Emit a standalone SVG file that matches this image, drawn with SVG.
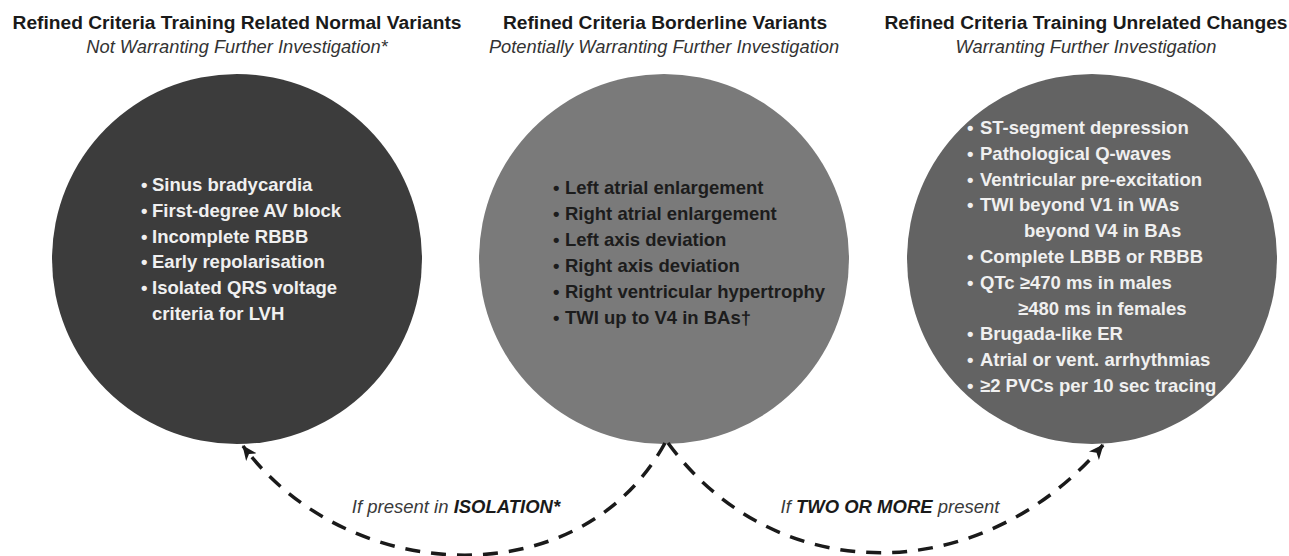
<svg xmlns="http://www.w3.org/2000/svg" width="1289" height="556" viewBox="0 0 1289 556">
<style>
.title{font-family:"Liberation Sans",Arial,sans-serif;font-weight:bold;font-size:19.2px;fill:#1a1a1a;text-anchor:middle}
.sub{font-family:"Liberation Sans",Arial,sans-serif;font-style:italic;font-size:18.3px;fill:#333;text-anchor:middle}
.item{font-family:"Liberation Sans",Arial,sans-serif;font-weight:bold;font-size:18.5px}
.light{fill:#f0f0f0}
.dark{fill:#1c1c1c}
.conn{fill:none;stroke:#1a1a1a;stroke-width:3.5;stroke-dasharray:15 11;marker-end:url(#arrow)}
.lbl{font-family:"Liberation Sans",Arial,sans-serif;font-style:italic;font-size:18.5px;fill:#3a3a3a;text-anchor:middle}
.lbl tspan.b{font-weight:bold;fill:#1a1a1a}
</style>
<defs>
<marker id="arrow" markerUnits="userSpaceOnUse" markerWidth="16" markerHeight="16" viewBox="0 0 16 16" refX="14" refY="8" orient="auto">
<path d="M0,1.5 L15,8 L0,14.5 L4,8 Z" fill="#1a1a1a"/>
</marker>
</defs>
<rect width="1289" height="556" fill="#ffffff"/>

<g id="node-normal">
<text class="title" x="237" y="29">Refined Criteria Training Related Normal Variants</text>
<text class="sub" x="237" y="53">Not Warranting Further Investigation*</text>
<circle cx="237" cy="259" r="185" fill="#3c3c3c"/>
<g class="item light">
<text x="141" y="191">•<tspan x="152">Sinus bradycardia</tspan></text>
<text x="141" y="217">•<tspan x="152">First-degree AV block</tspan></text>
<text x="141" y="243">•<tspan x="152">Incomplete RBBB</tspan></text>
<text x="141" y="268">•<tspan x="152">Early repolarisation</tspan></text>
<text x="141" y="294">•<tspan x="152">Isolated QRS voltage</tspan></text>
<text x="152" y="320">criteria for LVH</text>
</g>
</g>

<g id="node-borderline">
<text class="title" x="665" y="29">Refined Criteria Borderline Variants</text>
<text class="sub" x="664" y="53">Potentially Warranting Further Investigation</text>
<circle cx="664" cy="259" r="185" fill="#7a7a7a"/>
<g class="item dark">
<text x="553" y="194">•<tspan x="565">Left atrial enlargement</tspan></text>
<text x="553" y="220">•<tspan x="565">Right atrial enlargement</tspan></text>
<text x="553" y="246">•<tspan x="565">Left axis deviation</tspan></text>
<text x="553" y="272">•<tspan x="565">Right axis deviation</tspan></text>
<text x="553" y="298">•<tspan x="565">Right ventricular hypertrophy</tspan></text>
<text x="553" y="324">•<tspan x="565">TWI up to V4 in BAs†</tspan></text>
</g>
</g>

<g id="node-unrelated">
<text class="title" x="1086" y="29">Refined Criteria Training Unrelated Changes</text>
<text class="sub" x="1086" y="53">Warranting Further Investigation</text>
<circle cx="1092" cy="259" r="185" fill="#636363"/>
<g class="item light">
<text x="967" y="134">•<tspan x="980">ST-segment depression</tspan></text>
<text x="967" y="160">•<tspan x="980">Pathological Q-waves</tspan></text>
<text x="967" y="186">•<tspan x="980">Ventricular pre-excitation</tspan></text>
<text x="967" y="211">•<tspan x="980">TWI beyond V1 in WAs</tspan></text>
<text x="1024" y="237">beyond V4 in BAs</text>
<text x="967" y="263">•<tspan x="980">Complete LBBB or RBBB</tspan></text>
<text x="967" y="289">•<tspan x="980">QTc ≥470 ms in males</tspan></text>
<text x="1018" y="315">≥480 ms in females</text>
<text x="967" y="340">•<tspan x="980">Brugada-like ER</tspan></text>
<text x="967" y="366">•<tspan x="980">Atrial or vent. arrhythmias</tspan></text>
<text x="967" y="392">•<tspan x="980">≥2 PVCs per 10 sec tracing</tspan></text>
</g>
</g>

<g id="connectors">
<path class="conn" d="M665,443 C581,597 348,587 243,446"/>
<path class="conn" d="M668,443 C777,591 983,587 1103,445"/>
<text class="lbl" x="456" y="513">If present in <tspan class="b">ISOLATION*</tspan></text>
<text class="lbl" x="890" y="513">If <tspan class="b">TWO OR MORE</tspan> present</text>
</g>
</svg>
